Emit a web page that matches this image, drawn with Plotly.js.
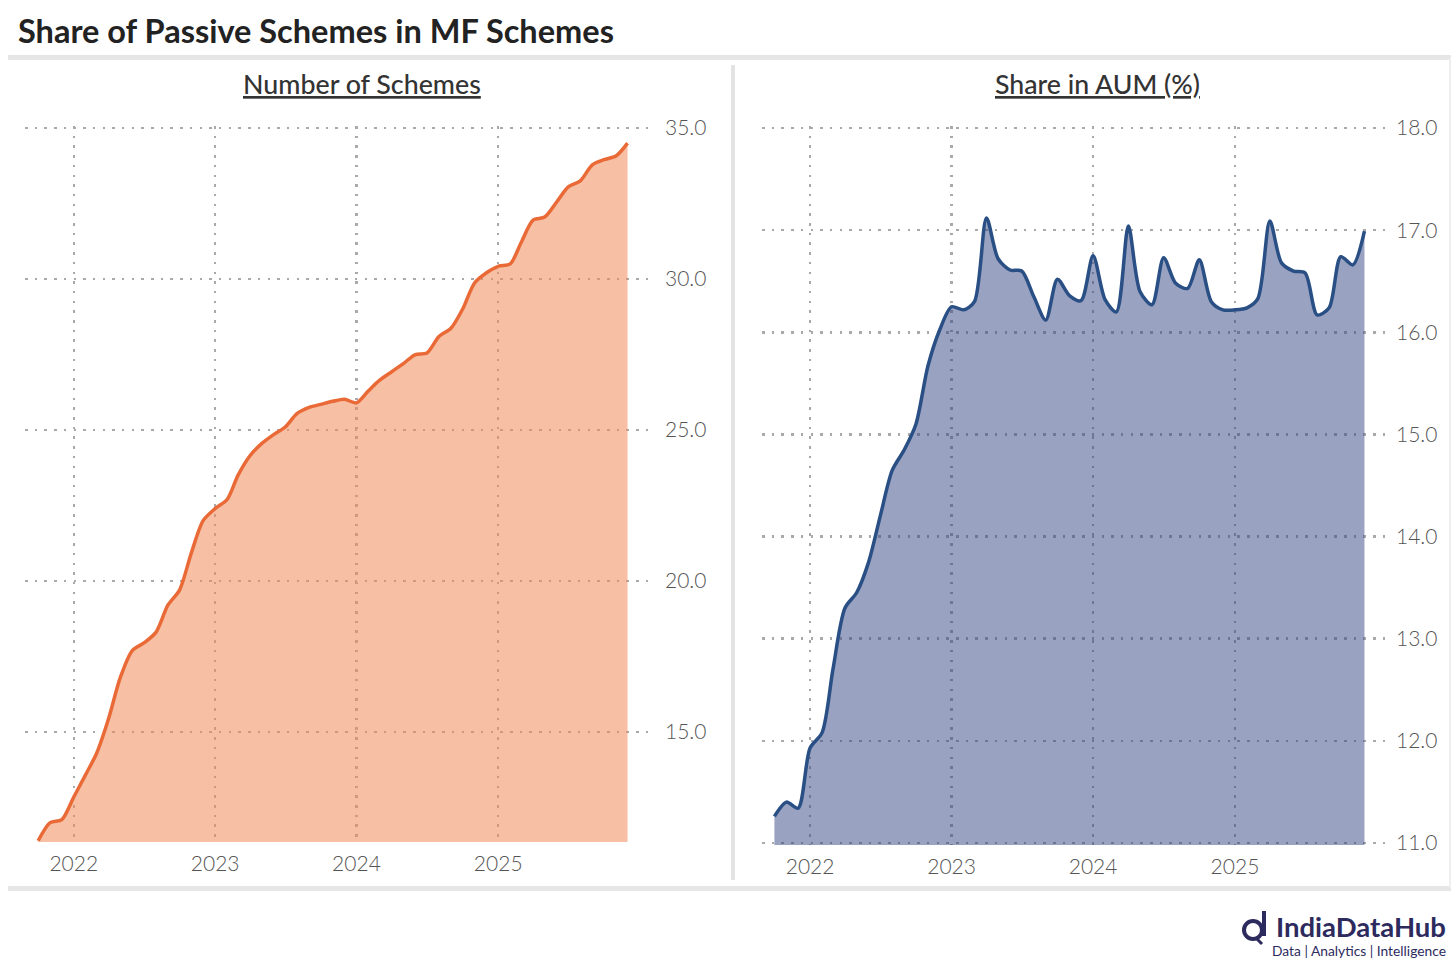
<!DOCTYPE html>
<html>
<head>
<meta charset="utf-8">
<script src="https://cdn.plot.ly/plotly-3.0.1.min.js"></script>
<style>
  html, body { margin: 0; padding: 0; background: #ffffff; }
  #chart { width: 1456px; height: 969px; }
</style>
</head>
<body>
<div id="chart"></div>
<script>
// ---- Data (monthly, Oct 2021 – Dec 2025) ----
const months = [
  "2021-10-01","2021-11-01","2021-12-01",
  "2022-01-01","2022-02-01","2022-03-01","2022-04-01","2022-05-01","2022-06-01",
  "2022-07-01","2022-08-01","2022-09-01","2022-10-01","2022-11-01","2022-12-01",
  "2023-01-01","2023-02-01","2023-03-01","2023-04-01","2023-05-01","2023-06-01",
  "2023-07-01","2023-08-01","2023-09-01","2023-10-01","2023-11-01","2023-12-01",
  "2024-01-01","2024-02-01","2024-03-01","2024-04-01","2024-05-01","2024-06-01",
  "2024-07-01","2024-08-01","2024-09-01","2024-10-01","2024-11-01","2024-12-01",
  "2025-01-01","2025-02-01","2025-03-01","2025-04-01","2025-05-01","2025-06-01",
  "2025-07-01","2025-08-01","2025-09-01","2025-10-01","2025-11-01","2025-12-01"
];

// Share of passive schemes in number of MF schemes (%)
const schemeShare = [
  11.4, 12.0, 12.1,
  12.85, 13.6, 14.3, 15.45, 16.8, 17.7,
  17.95, 18.3, 19.2, 19.7, 20.95, 22.0,
  22.4, 22.7, 23.5, 24.15, 24.55, 24.85,
  25.1, 25.55, 25.75, 25.85, 25.95, 26.02,
  25.9, 26.3, 26.65, 26.93, 27.2, 27.5,
  27.55, 28.1, 28.37, 29.0, 29.87, 30.2,
  30.42, 30.5, 31.2, 31.95, 32.05, 32.55,
  33.05, 33.25, 33.78, 33.95, 34.07, 34.5
];

// Share of passive schemes in MF AUM (%)
const aumShare = [
  11.26, 11.4, 11.34,
  11.93, 12.08, 12.7, 13.3, 13.45, 13.75,
  14.2, 14.65, 14.85, 15.1, 15.67, 16.02,
  16.25, 16.22, 16.3, 17.12, 16.72, 16.61,
  16.6, 16.35, 16.12, 16.52, 16.36, 16.31,
  16.75, 16.32, 16.2, 17.04, 16.4, 16.27,
  16.73, 16.48, 16.43, 16.71, 16.3, 16.22,
  16.22, 16.24, 16.33, 17.09, 16.68, 16.6,
  16.58, 16.17, 16.24, 16.74, 16.66, 16.99
];

const yearTickVals = ["2022-01-01","2023-01-01","2024-01-01","2025-01-01"];
const yearTickText = ["2022","2023","2024","2025"];
const leftYTicks = [15, 20, 25, 30, 35];
const rightYTicks = [11, 12, 13, 14, 15, 16, 17, 18];

// ---- Helpers for page furniture (pixel -> paper) ----
const W = 1456, H = 969;
const px = x => x / W;
const py = y => 1 - y / H;

const tickFont = { family: "Lato, 'Open Sans', sans-serif", size: 21, color: "#555555", weight: 300 };
const gridCol = "#a9a9a9";
const gridDash = "2.5px,7.2px";

const traces = [
  {
    x: months, y: schemeShare, xaxis: "x", yaxis: "y",
    type: "scatter", mode: "lines",
    line: { color: "#e96a37", width: 3.5, shape: "spline", smoothing: 0.8 },
    fill: "tozeroy", fillcolor: "rgba(240,140,90,0.55)",
    hoverinfo: "x+y", showlegend: false
  },
  {
    x: months, y: aumShare, xaxis: "x2", yaxis: "y2",
    type: "scatter", mode: "lines",
    line: { color: "#294f84", width: 3.5, shape: "spline", smoothing: 0.8 },
    fill: "tozeroy", fillcolor: "rgba(52,70,132,0.5)",
    hoverinfo: "x+y", showlegend: false
  }
];

const xCommon = {
  type: "date",
  tickmode: "array", tickvals: yearTickVals, ticktext: yearTickText,
  showgrid: true, gridcolor: gridCol, gridwidth: 2.5, griddash: gridDash,
  zeroline: false, showline: false, ticks: "",
  tickfont: tickFont, ticklabelstandoff: 7
};

const layout = {
  width: W, height: H,
  margin: { l: 0, r: 0, t: 0, b: 0 },
  paper_bgcolor: "#ffffff", plot_bgcolor: "rgba(0,0,0,0)",
  showlegend: false,
  xaxis: Object.assign({}, xCommon, {
    domain: [px(25), px(650)],
    range: ["2021-08-28", "2026-01-28"],
    anchor: "y"
  }),
  xaxis2: Object.assign({}, xCommon, {
    domain: [px(762), px(1385)],
    range: ["2021-08-30", "2026-01-23"],
    anchor: "y2"
  }),
  yaxis: {
    domain: [py(842), py(126)],
    range: [11.36, 35.066],
    side: "right", anchor: "x",
    tickmode: "array", tickvals: leftYTicks, tickformat: ".1f",
    showgrid: true, gridcolor: gridCol, gridwidth: 2.5, griddash: gridDash,
    zeroline: false, showline: false, ticks: "",
    tickfont: tickFont, ticklabelstandoff: 14
  },
  yaxis2: {
    domain: [py(845), py(126)],
    range: [10.98, 18.02],
    side: "right", anchor: "x2",
    tickmode: "array", tickvals: rightYTicks, tickformat: ".1f",
    showgrid: true, gridcolor: gridCol, gridwidth: 2.5, griddash: gridDash,
    zeroline: false, showline: false, ticks: "",
    tickfont: tickFont, ticklabelstandoff: 10
  },
  shapes: [
    // top separator
    { type: "rect", xref: "paper", yref: "paper", x0: px(8), x1: px(1451), y0: py(60), y1: py(55),
      fillcolor: "#e6e6e6", line: { width: 0 }, layer: "below" },
    // bottom separator
    { type: "rect", xref: "paper", yref: "paper", x0: px(8), x1: px(1451), y0: py(891), y1: py(886),
      fillcolor: "#e6e6e6", line: { width: 0 }, layer: "below" },
    // vertical separator between panels
    { type: "rect", xref: "paper", yref: "paper", x0: px(731), x1: px(735), y0: py(880), y1: py(65),
      fillcolor: "#e3e3e3", line: { width: 0 }, layer: "below" },
    // right edge border
    { type: "rect", xref: "paper", yref: "paper", x0: px(1449), x1: px(1451), y0: py(888), y1: py(57),
      fillcolor: "#eeeeee", line: { width: 0 }, layer: "below" },
    // logo icon: ring
    { type: "circle", xref: "paper", yref: "paper", x0: px(1244), x1: px(1262), y0: py(939), y1: py(921),
      line: { color: "#2d2a5e", width: 4 }, fillcolor: "rgba(0,0,0,0)" },
    // logo icon: stem
    { type: "line", xref: "paper", yref: "paper", x0: px(1264), x1: px(1264), y0: py(911), y1: py(936),
      line: { color: "#2d2a5e", width: 4 } },
    // logo icon: tail
    { type: "line", xref: "paper", yref: "paper", x0: px(1256), x1: px(1262), y0: py(938), y1: py(944),
      line: { color: "#2d2a5e", width: 3 } }
  ],
  annotations: [
    { text: "<b>Share of Passive Schemes in MF Schemes</b>", xref: "paper", yref: "paper",
      x: px(16), y: py(30), xanchor: "left", yanchor: "middle", showarrow: false,
      font: { family: "Lato, 'Open Sans', sans-serif", size: 32.5, color: "#222222" } },
    { text: "<u>Number of Schemes</u>", xref: "paper", yref: "paper",
      x: px(362), y: py(84), xanchor: "center", yanchor: "middle", showarrow: false,
      font: { family: "Lato, 'Open Sans', sans-serif", size: 26.8, color: "#333333", weight: 500 } },
    { text: "<u>Share in AUM (%)</u>", xref: "paper", yref: "paper",
      x: px(1097), y: py(84), xanchor: "center", yanchor: "middle", showarrow: false,
      font: { family: "Lato, 'Open Sans', sans-serif", size: 26.7, color: "#333333", weight: 500 } },
    { text: "<b>IndiaDataHub</b>", xref: "paper", yref: "paper",
      x: px(1448), y: py(926), xanchor: "right", yanchor: "middle", showarrow: false,
      font: { family: "Lato, 'Open Sans', sans-serif", size: 27.5, color: "#2d2a5e" } },
    { text: "Data | Analytics | Intelligence", xref: "paper", yref: "paper",
      x: px(1448), y: py(950), xanchor: "right", yanchor: "middle", showarrow: false,
      font: { family: "Lato, 'Open Sans', sans-serif", size: 13.8, color: "#2d2a5e" } }
  ]
};

Plotly.newPlot("chart", traces, layout, { displayModeBar: false, staticPlot: true });
</script>
</body>
</html>
